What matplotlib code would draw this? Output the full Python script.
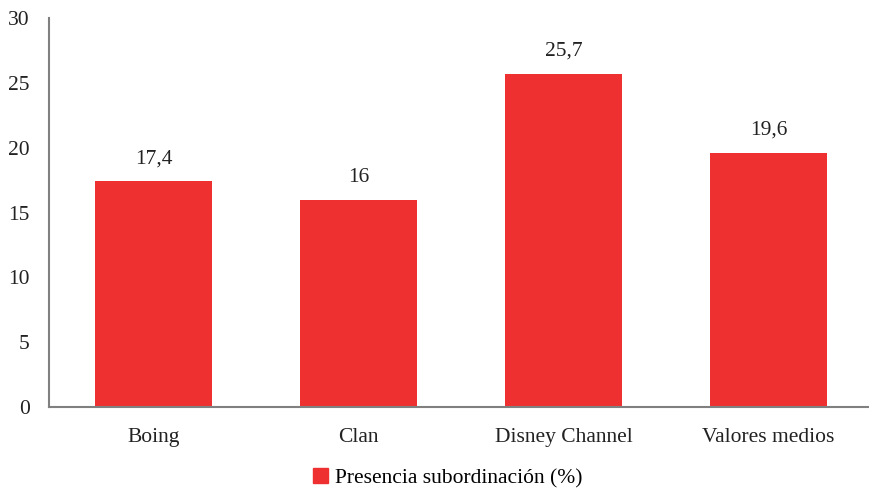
import matplotlib.pyplot as plt
from matplotlib.patches import Patch

categories = ['Boing', 'Clan', 'Disney Channel', 'Valores medios']
values = [17.4, 16, 25.7, 19.6]
labels = ['17,4', '16', '25,7', '19,6']
series_name = 'Presencia subordinación (%)'

plt.rcParams['font.family'] = ['Liberation Serif', 'DejaVu Serif']
color = '#EE3130'
fs = 15.5

fig = plt.figure(figsize=(8.69, 4.88), dpi=100)
ax = fig.add_axes([0.0564, 0.166, 0.9436, 0.797])

x = range(len(categories))
bars = ax.bar(x, values, width=0.57, color=color)
for b, lab in zip(bars, labels):
    ax.text(b.get_x() + b.get_width() / 2, b.get_height() + 1.0, lab,
            ha='center', va='bottom', fontsize=fs, color='#222222')

ax.set_xlim(-0.51, len(categories) - 0.51)
ax.set_ylim(0, 30)
ax.set_yticks(range(0, 31, 5))
ax.set_xticks(list(x))
ax.set_xticklabels(categories)
ax.tick_params(length=0, labelsize=fs, colors='#222222')
ax.tick_params(axis='x', pad=15)
ax.tick_params(axis='y', pad=14)
for s in ['top', 'right']:
    ax.spines[s].set_visible(False)
for s in ['left', 'bottom']:
    ax.spines[s].set_color('#808080')
    ax.spines[s].set_linewidth(1.5)

fig.legend(handles=[Patch(color=color, label=series_name)],
           loc='center', bbox_to_anchor=(0.515, 0.02), frameon=False,
           fontsize=fs, handlelength=0.7, handleheight=0.7, handletextpad=0.3)

fig.savefig('out.png', dpi=100)
